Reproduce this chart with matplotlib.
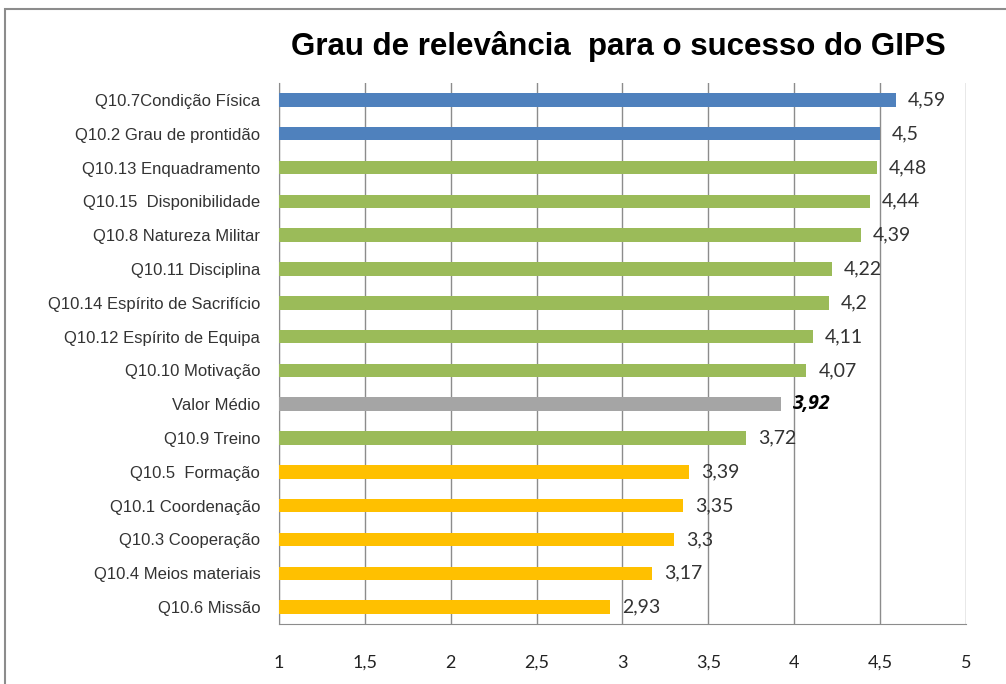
import matplotlib.pyplot as plt
from matplotlib.patches import Rectangle

## Data (top to bottom)
categories = ["Q10.7Condição Física", "Q10.2 Grau de prontidão", "Q10.13 Enquadramento",
              "Q10.15  Disponibilidade", "Q10.8 Natureza Militar", "Q10.11 Disciplina",
              "Q10.14 Espírito de Sacrifício", "Q10.12 Espírito de Equipa", "Q10.10 Motivação",
              "Valor Médio", "Q10.9 Treino", "Q10.5  Formação", "Q10.1 Coordenação",
              "Q10.3 Cooperação", "Q10.4 Meios materiais", "Q10.6 Missão"]
values = [4.59, 4.5, 4.48, 4.44, 4.39, 4.22, 4.2, 4.11, 4.07, 3.92, 3.72, 3.39, 3.35, 3.3, 3.17, 2.93]
value_labels = ["4,59", "4,5", "4,48", "4,44", "4,39", "4,22", "4,2", "4,11", "4,07", "3,92",
                "3,72", "3,39", "3,35", "3,3", "3,17", "2,93"]
groups = ["blue"] * 2 + ["green"] * 7 + ["grey"] + ["green"] + ["yellow"] * 5
xticks = [1, 1.5, 2, 2.5, 3, 3.5, 4, 4.5, 5]
xtick_labels = ["1", "1,5", "2", "2,5", "3", "3,5", "4", "4,5", "5"]

palette = {"blue": "#4F81BD", "green": "#9BBB59", "grey": "#A5A5A5", "yellow": "#FFC000"}
base = 1

fig = plt.figure(figsize=(10.06, 6.84), dpi=100)
ax = fig.add_axes([279 / 1006, 1 - 624 / 684, 687 / 1006, 541 / 684])

ypos = list(range(len(categories)))
ax.barh(ypos, [v - base for v in values], left=base, height=0.4,
        color=[palette[g] for g in groups], zorder=3)

## value labels next to the bar ends (the mean is bold italic)
for y, v, lab, g in zip(ypos, values, value_labels, groups):
    if g == "grey":
        ax.text(v + 0.07, y, lab, va="center", ha="left", fontsize=14,
                family="Open Sans", fontweight="bold", fontstyle="italic", color="black")
    else:
        ax.text(v + 0.07, y, lab, va="center", ha="left", fontsize=14,
                family="Lato", color="#333333")

ax.set_xlim(1, 5)
ax.set_ylim(len(categories) - 0.5, -0.5)
ax.set_xticks(xticks)
ax.set_xticklabels(xtick_labels, family="Lato", fontsize=13, color="#222222")
ax.set_yticks(ypos)
ax.set_yticklabels(categories, family="Liberation Sans", fontsize=12, color="#333333")
ax.tick_params(axis="x", length=0, pad=22)
ax.tick_params(axis="y", length=0, pad=13.5)
ax.grid(axis="x", color="#8C8C8C", linewidth=1, zorder=0)
for s in ["top", "right"]:
    ax.spines[s].set_visible(False)
for s in ["left", "bottom"]:
    ax.spines[s].set_color("#8C8C8C")

fig.text(618 / 1006, 1 - 46 / 684, "Grau de relevância  para o sucesso do GIPS",
         ha="center", va="center", fontsize=22.5, fontweight="bold", family="Liberation Sans")

## Outer chart frame (cropped on right and bottom)
fig.patches.append(Rectangle((5 / 1006, -0.1), 1.2, 1 - 9 / 684 + 0.1, transform=fig.transFigure,
                             fill=False, edgecolor="#8C8C8C", linewidth=1.5))

fig.savefig("out.png", dpi=100)
